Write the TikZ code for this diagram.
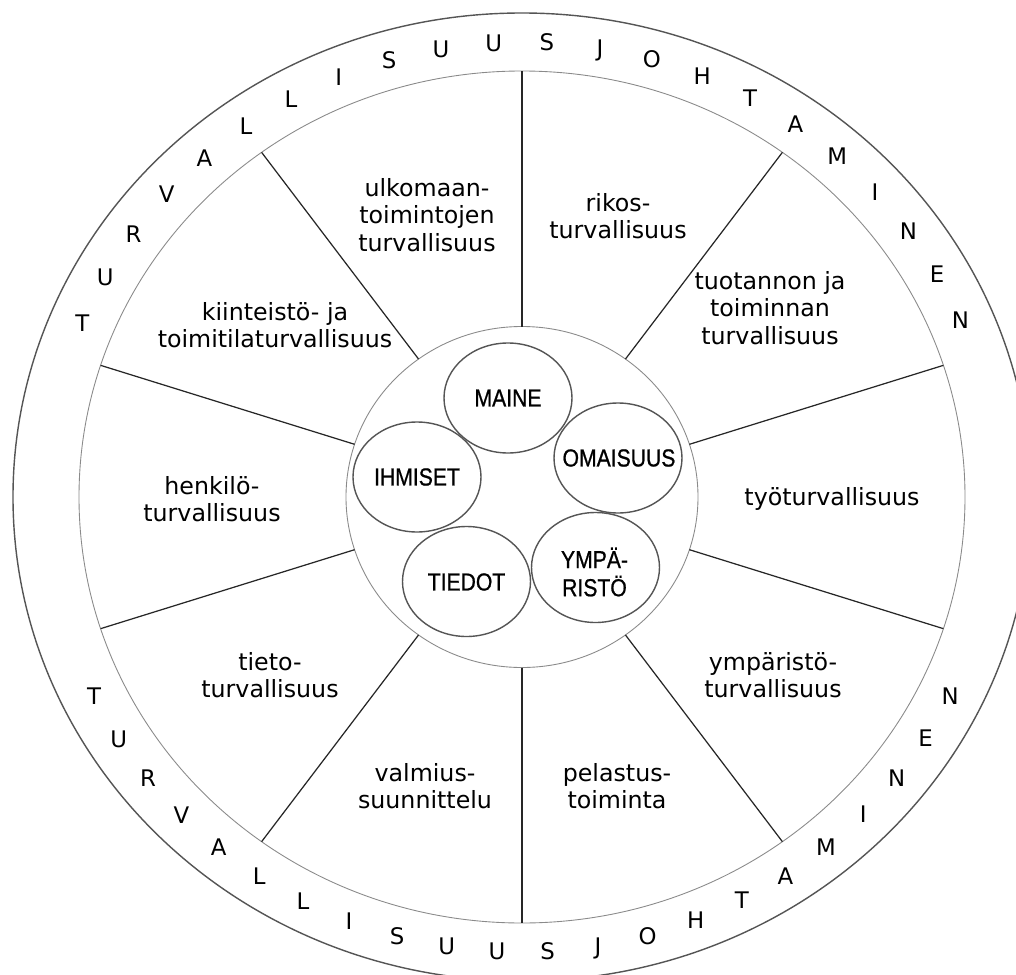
\documentclass[tikz,border=0pt]{standalone}
\usepackage{fontspec}
\setmainfont{DejaVu Sans}
\newfontfamily\hubfont[FakeStretch=0.86, FakeBold=0.8]{Liberation Sans}
\usepackage{tikz}
\usetikzlibrary{positioning}
\definecolor{rimgray}{HTML}{555555}
\definecolor{ringgray}{HTML}{8A8A8A}

\begin{document}
\begin{tikzpicture}[x=0.02cm, y=0.02cm,
          sect/.style={font=\fontsize{13.5}{15.5}\selectfont, align=center, inner sep=0pt},
          ltr/.style={font=\fontsize{13}{15}\selectfont, text height=9.5pt, text depth=0pt, inner sep=0pt},
          hub/.style={font=\hubfont\fontsize{14}{16}\selectfont, align=center, inner sep=0pt},
          hubring/.style={draw=rimgray, line width=0.8pt},
          spoke/.style={draw=black!85, line width=0.7pt}]
        \fill[white] (-522,-477) rectangle (494,497);
        \clip (-522,-477) rectangle (494,497);
        \draw[rimgray, line width=0.8pt] (0,0) ellipse [x radius=509, y radius=484];
        \draw[ringgray, line width=0.5pt] (0,0) ellipse [x radius=443, y radius=426];
        \draw[ringgray, line width=0.5pt] (0,0) ellipse [x radius=176, y radius=170.5];
        \foreach \k in {0,...,9}{
          \coordinate (a\k) at ({90+36*\k}:176 and 170.5);
          \coordinate (b\k) at ({90+36*\k}:443 and 426);
          \draw[spoke] (a\k) -- (b\k);
        }
        \foreach \c [count=\i from 0] in {T,U,R,V,A,L,L,I,S,U,U,S,J,O,H,T,A,M,I,N,E,N}{
          \node[ltr] (top\i) at ({157.5-6.41*\i}:476 and 455) {\c};
          \node[ltr] (bot\i) at ({-154+6.1*\i}:476 and 455) {\c};
        }
        \foreach \p in {(-14,99),(-105,20),(96,39),(73.5,-70.5),(-55.5,-84.5)}
          \draw[hubring] \p ellipse [x radius=64, y radius=55];
        \node[hub] (maine) at (-14,99) {MAINE};
        \node[hub] (ihmiset) at (-105,20) {IHMISET};
        \node[hub] (omaisuus) at (97,39) {OMAISUUS};
        \node[hub] (ymparisto) at (72.5,-75) {YMPÄ-\\RISTÖ};
        \node[hub] (tiedot) at (-55.5,-85) {TIEDOT};
        \node[sect] (ulko) at (-95,282) {ulkomaan-\\toimintojen\\turvallisuus};
        \node[sect] (rikos) at (96,281) {rikos-\\turvallisuus};
        \node[sect] (tuot) at (248,189) {tuotannon ja\\toiminnan\\turvallisuus};
        \node[sect] (tyo) at (310,-2) {työturvallisuus};
        \node[sect] (ymp) at (251,-178) {ympäristö-\\turvallisuus};
        \node[sect] (pel) at (95,-289) {pelastus-\\toiminta};
        \node[sect] (valm) at (-97,-289) {valmius-\\suunnittelu};
        \node[sect] (tieto) at (-252,-178) {tieto-\\turvallisuus};
        \node[sect] (henk) at (-310,-2) {henkilö-\\turvallisuus};
        \node[sect] (kiint) at (-247,172) {kiinteistö- ja\\toimitilaturvallisuus};
      \end{tikzpicture}
\end{document}
